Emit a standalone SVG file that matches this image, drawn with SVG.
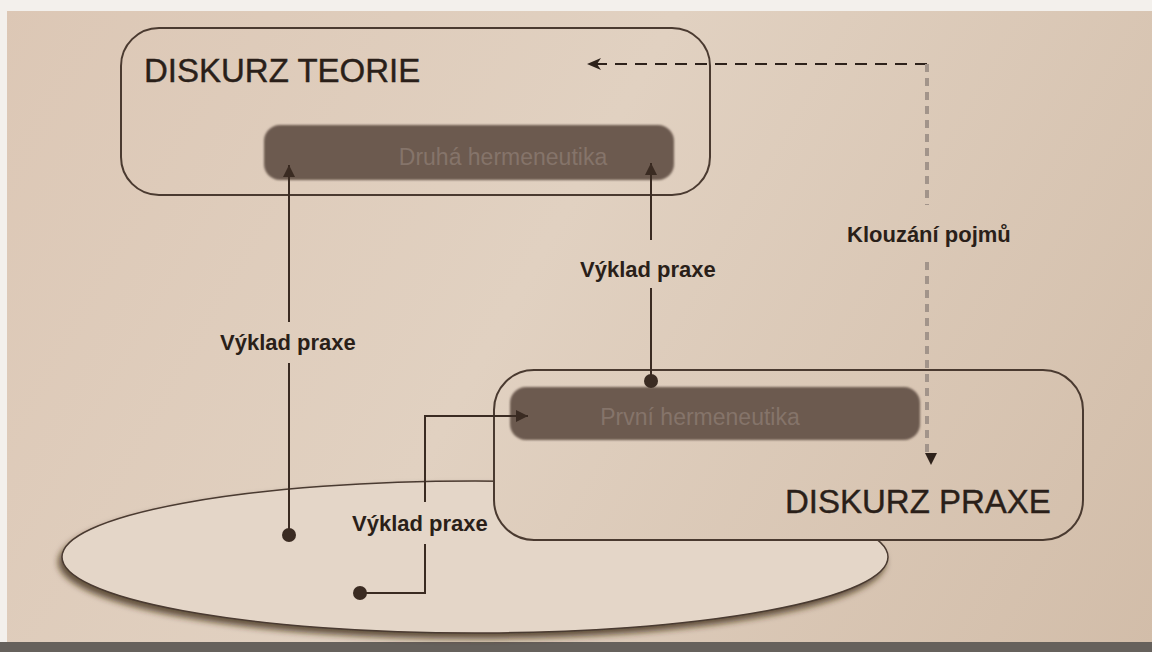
<svg xmlns="http://www.w3.org/2000/svg" width="1152" height="652" viewBox="0 0 1152 652">
  <defs>
    <linearGradient id="bg" gradientUnits="userSpaceOnUse" x1="0" y1="0" x2="1152" y2="652">
      <stop offset="0" stop-color="#dcc7b5"/>
      <stop offset="0.45" stop-color="#e1d1c1"/>
      <stop offset="1" stop-color="#d2bda9"/>
    </linearGradient>
    <filter id="shadow" x="-10%" y="-20%" width="120%" height="150%">
      <feDropShadow dx="-3" dy="5" stdDeviation="3" flood-color="#3a2618" flood-opacity="0.75"/>
    </filter>
    <filter id="soft" x="-5%" y="-20%" width="110%" height="140%">
      <feGaussianBlur stdDeviation="1"/>
    </filter>
    <marker id="tri" markerUnits="userSpaceOnUse" markerWidth="14" markerHeight="14" refX="12" refY="6" orient="auto">
      <path d="M0,0 L12,6 L0,12 Z" fill="#3a2b22"/>
    </marker>
    <marker id="barb" markerUnits="userSpaceOnUse" markerWidth="16" markerHeight="14" refX="14" refY="6" orient="auto">
      <path d="M0,0 L14,6 L0,12 L4,6 Z" fill="#2e221b"/>
    </marker>
    <marker id="tri2" markerUnits="userSpaceOnUse" markerWidth="14" markerHeight="14" refX="12" refY="6" orient="auto">
      <path d="M0,0 L12,6 L0,12 Z" fill="#2e221b"/>
    </marker>
  </defs>
  <style>
    .box { fill: url(#bg); stroke: #4a3a30; stroke-width: 2; }
    .dark { fill: #6c5a4f; }
    .darktext { font-family: "Liberation Sans", Arial, sans-serif; font-size: 23px; fill: #85746a; }
    .title { font-family: "Liberation Sans", Arial, sans-serif; font-size: 33px; fill: #2a1f19; stroke: #2a1f19; stroke-width: 0.4; }
    .label { font-family: "Liberation Sans", Arial, sans-serif; font-size: 22px; font-weight: bold; fill: #2a1f19; }
    .conn { fill: none; stroke: #3a2b22; stroke-width: 2; }
    .dot { fill: #3a2b22; }
  </style>

  <!-- photo background -->
  <rect x="0" y="0" width="1152" height="652" fill="url(#bg)"/>
  <rect x="0" y="0" width="1152" height="11" fill="#f3f0ec"/>
  <rect x="0" y="0" width="7" height="645" fill="#f3f0ec"/>
  <rect x="0" y="642" width="1152" height="10" fill="#66615c"/>

  <g id="ellipse-praxe">
    <ellipse cx="475" cy="557" rx="413" ry="76" fill="#e4d6c8" stroke="#4a3a30" stroke-width="1.5" filter="url(#shadow)"/>
  </g>

  <g id="diskurz-teorie">
    <rect class="box" x="121" y="28" width="589" height="167" rx="38" ry="38"/>
    <text class="title" x="144" y="82">DISKURZ TEORIE</text>
  </g>

  <g id="druha-hermeneutika">
    <rect class="dark" x="264" y="125" width="410" height="55" rx="16" ry="16" filter="url(#soft)"/>
    <text class="darktext" x="503" y="165" text-anchor="middle">Druhá hermeneutika</text>
  </g>

  <g id="diskurz-praxe">
    <rect class="box" x="494" y="370" width="589" height="170" rx="40" ry="40"/>
    <text class="title" x="785" y="513">DISKURZ PRAXE</text>
  </g>

  <g id="prvni-hermeneutika">
    <rect class="dark" x="510" y="387" width="410" height="53" rx="16" ry="16" filter="url(#soft)"/>
    <text class="darktext" x="700" y="425" text-anchor="middle">První hermeneutika</text>
  </g>

  <g id="connectors">
    <!-- left: Výklad praxe up to Druhá hermeneutika -->
    <path class="conn" d="M289,535 V363"/>
    <path class="conn" d="M289,322 V165" marker-end="url(#tri)"/>
    <circle class="dot" cx="289" cy="535" r="7"/>
    <!-- right: from První up to Druhá -->
    <path class="conn" d="M651,381 V288"/>
    <path class="conn" d="M651,240 V163" marker-end="url(#tri)"/>
    <circle class="dot" cx="651" cy="381" r="7"/>
    <!-- bottom: from ellipse to První -->
    <path class="conn" d="M360,593 H425 V544"/>
    <path class="conn" d="M425,502 V416 H528" marker-end="url(#tri)"/>
    <circle class="dot" cx="360" cy="593" r="7"/>
    <!-- Klouzání pojmů dashed -->
    <path fill="none" stroke="#2e221b" stroke-width="2" stroke-dasharray="12,8" d="M927,64 H587" marker-end="url(#barb)"/>
    <path fill="none" stroke="#a2948a" stroke-width="4" stroke-dasharray="8,6" d="M927,64 V205"/>
    <path fill="none" stroke="#a2948a" stroke-width="4" stroke-dasharray="8,6" d="M927,262 V452"/>
    <path fill="none" stroke="none" d="M931,452 V465" marker-end="url(#tri2)"/>
  </g>

  <g id="labels">
    <text class="label" x="220" y="350">Výklad praxe</text>
    <text class="label" x="580" y="277">Výklad praxe</text>
    <text class="label" x="352" y="531">Výklad praxe</text>
    <text class="label" x="847" y="242">Klouzání pojmů</text>
  </g>
</svg>
